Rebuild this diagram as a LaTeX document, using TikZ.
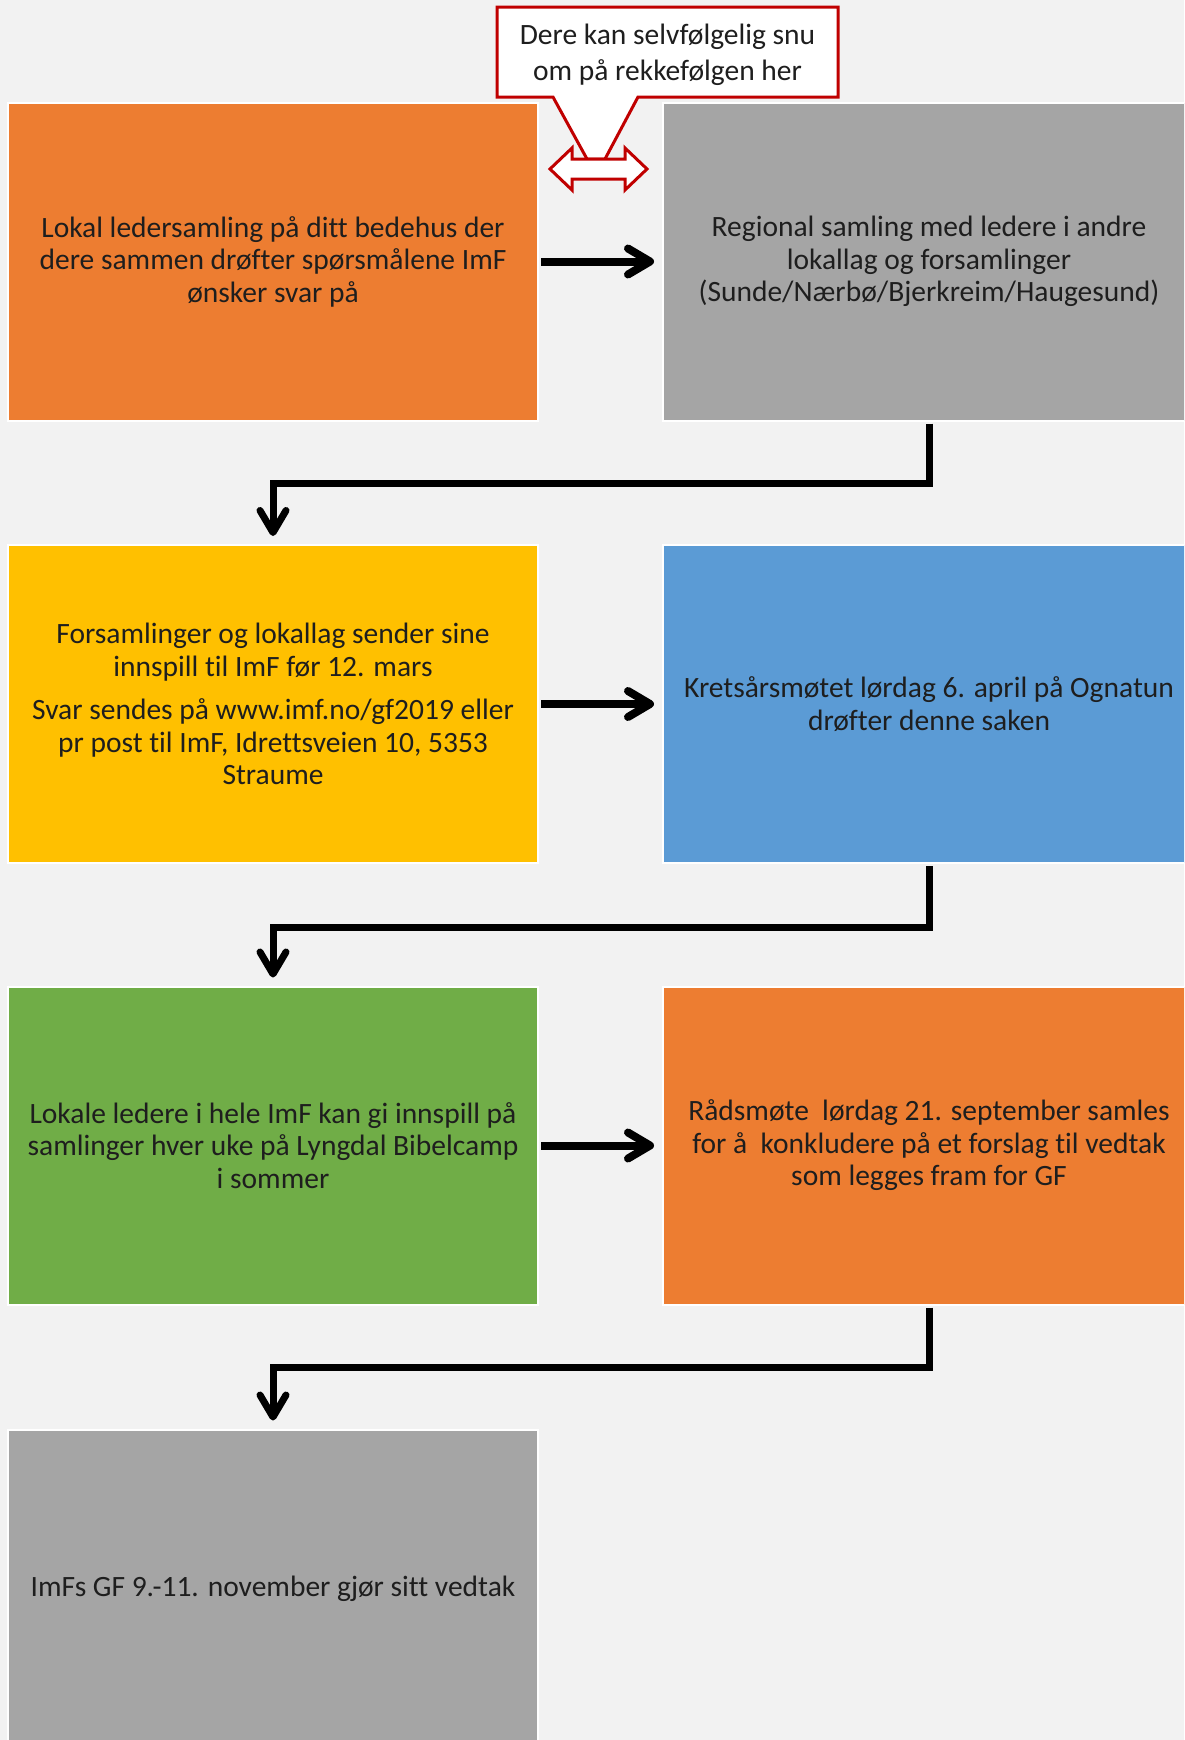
\documentclass[tikz,border=0pt]{standalone}
\usepackage{fontspec}
\setmainfont{Carlito}[Ligatures=CommonOff]
\usetikzlibrary{arrows.meta}
\definecolor{bg}{HTML}{F2F2F2}
\definecolor{cOrange}{HTML}{ED7D31}
\definecolor{cGray}{HTML}{A5A5A5}
\definecolor{cYellow}{HTML}{FFC000}
\definecolor{cBlue}{HTML}{5B9BD5}
\definecolor{cGreen}{HTML}{70AD47}
\definecolor{cRed}{HTML}{C00000}
\definecolor{txt}{HTML}{1E1E1E}
\tikzset{
  box/.style={draw=white, line width=2pt, minimum width=530pt, minimum height=318pt,
    inner sep=0pt, align=center, text=txt, font=\fontsize{29.5}{32.5}\selectfont},
  rbox/.style={box, minimum width=532pt},
  hconn/.style={line width=8pt, -{Straight Barb[length=22pt,width=26pt,round]},
    shorten <=2pt, shorten >=8pt},
  vconn/.style={line width=7pt, -{Straight Barb[length=22pt,width=26pt,round]},
    shorten <=2pt, shorten >=8pt},
  callout/.style={draw=cRed, line width=3pt, fill=white, line join=miter}
}
\begin{document}
\begin{tikzpicture}[x=1pt,y=-1pt]
\useasboundingbox (0,0) rectangle (1184,1740);
\fill[bg] (0,0) rectangle (1184,1740);
\begin{scope}
\clip (0,0) rectangle (1184,1740);
\node[box, fill=cOrange] (b1) at (273,261.5) {Lokal ledersamling på ditt bedehus der\\dere sammen drøfter spørsmålene ImF\\ønsker svar på};
\node[rbox, fill=cGray] (b2) at (929,261.5) {Regional samling med ledere i andre\\lokallag og forsamlinger\\(Sunde/Nærbø/Bjerkreim/Haugesund)};
\node[box, fill=cYellow] (b3) at (273,704) {Forsamlinger og lokallag sender sine\\innspill til ImF før 12. mars\\[11pt]Svar sendes på www.imf.no/gf2019 eller\\pr post til ImF, Idrettsveien 10, 5353\\Straume};
\node[rbox, fill=cBlue] (b4) at (929,704) {Kretsårsmøtet lørdag 6. april på Ognatun\\drøfter denne saken};
\node[box, fill=cGreen] (b5) at (273,1145.5) {Lokale ledere i hele ImF kan gi innspill på\\samlinger hver uke på Lyngdal Bibelcamp\\i sommer};
\node[rbox, fill=cOrange] (b6) at (929,1145.5) {Rådsmøte~ lørdag 21. september samles\\for å~ konkludere på et forslag til vedtak\\som legges fram for GF};
\node[box, fill=cGray] (b7) at (273,1588.5) {ImFs GF 9.-11. november gjør sitt vedtak};
\end{scope}
% connectors
\draw[hconn] (b1.east) -- (b2.west);
\draw[hconn] (b3.east) -- (b4.west);
\draw[hconn] (b5.east) -- (b6.west);
\draw[vconn] (b2.south) -- ++(0,62) -| (b3.north);
\draw[vconn] (b4.south) -- ++(0,63) -| (b5.north);
\draw[vconn] (b6.south) -- ++(0,62) -| (b7.north);
% callout
\draw[callout] (497,7) -- (838,7) -- (838,97) -- (638,97) -- (605,159) -- (587,159) -- (553,97) -- (497,97) -- cycle;
\node[text=txt, align=center, font=\fontsize{29.5}{36}\selectfont, inner sep=0pt] (c) at (667.5,55) {Dere kan selvfølgelig snu\\om på rekkefølgen her};
\draw[callout] (550,169) -- (572,148) -- (572,159) -- (625,159) -- (625,148) -- (647,169) -- (625,190) -- (625,179) -- (572,179) -- (572,190) -- cycle;
\end{tikzpicture}
\end{document}
